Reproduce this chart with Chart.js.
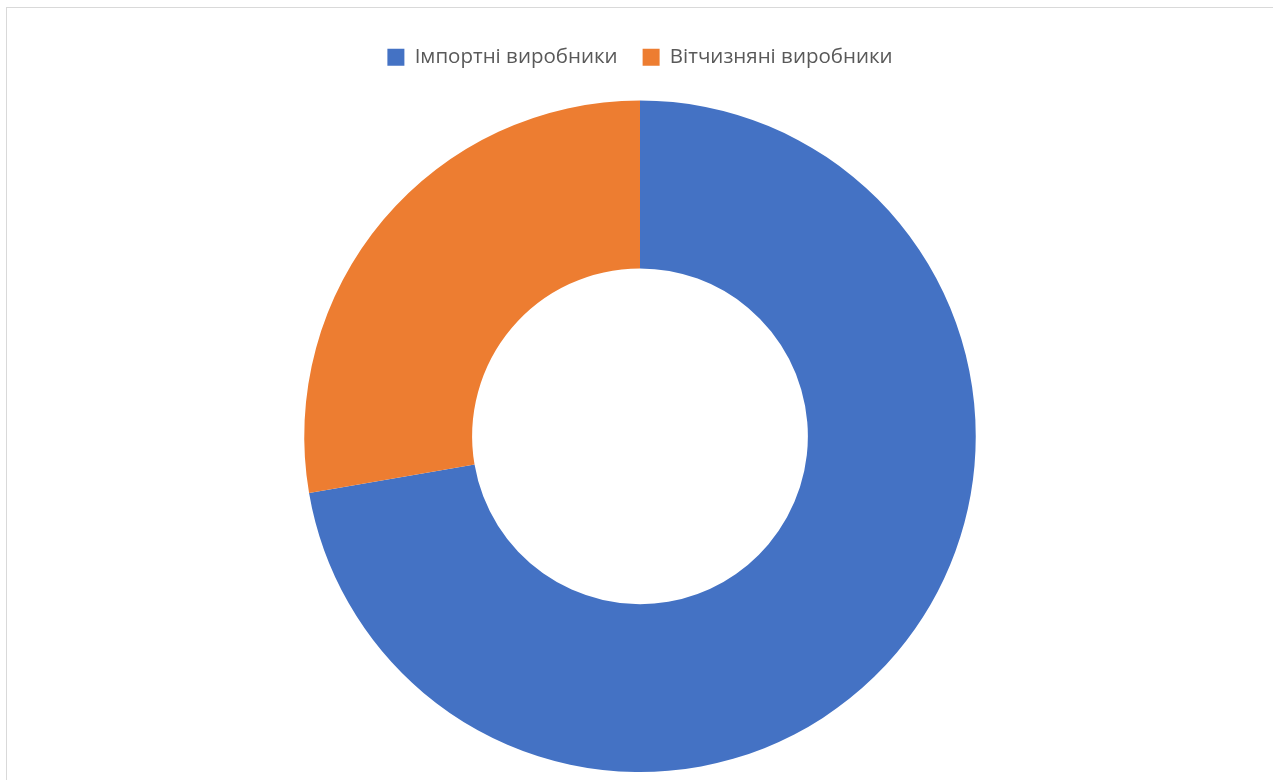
<!DOCTYPE html>
<html>
<head>
<meta charset="utf-8">
<script src="https://cdn.jsdelivr.net/npm/chart.js@4/dist/chart.umd.min.js"></script>
<style>
  html, body { margin: 0; padding: 0; background: #fff; overflow: hidden; }
  .frame { position: absolute; left: 6px; top: 7px; width: 1400px; height: 900px; border: 1px solid #d9d9d9; }
  #myChart { position: absolute; left: 0; top: 0; }
</style>
</head>
<body>
<div class="frame"></div>
<canvas id="myChart" width="1273" height="780"></canvas>
<script>
const labels = ["Імпортні виробники", "Вітчизняні виробники"];
const dataValues = [72.3, 27.7];
const colors = ["#4472C4", "#ED7D31"];

// extra space under the legend
const legendGap = {
  id: "legendGap",
  beforeInit(chart) {
    const fit = chart.legend.fit;
    chart.legend.fit = function () {
      fit.bind(chart.legend)();
      this.height += 23;
    };
  },
};

const ctx = document.getElementById("myChart").getContext("2d");

new Chart(ctx, {
  type: "doughnut",
  data: {
    labels,
    datasets: [
      {
        data: dataValues,
        backgroundColor: colors,
        borderWidth: 0,
      },
    ],
  },
  options: {
    responsive: false,
    animation: false,
    cutout: "50%",
    layout: {
      padding: { top: 22, bottom: 8, left: 7, right: 0 },
    },
    plugins: {
      legend: {
        position: "top",
        labels: {
          boxWidth: 17,
          boxHeight: 17,
          padding: 25,
          color: "#595959",
          font: { family: "'Open Sans', sans-serif", size: 20.5 },
        },
      },
      tooltip: { enabled: false },
    },
  },
  plugins: [legendGap],
});
</script>
</body>
</html>
